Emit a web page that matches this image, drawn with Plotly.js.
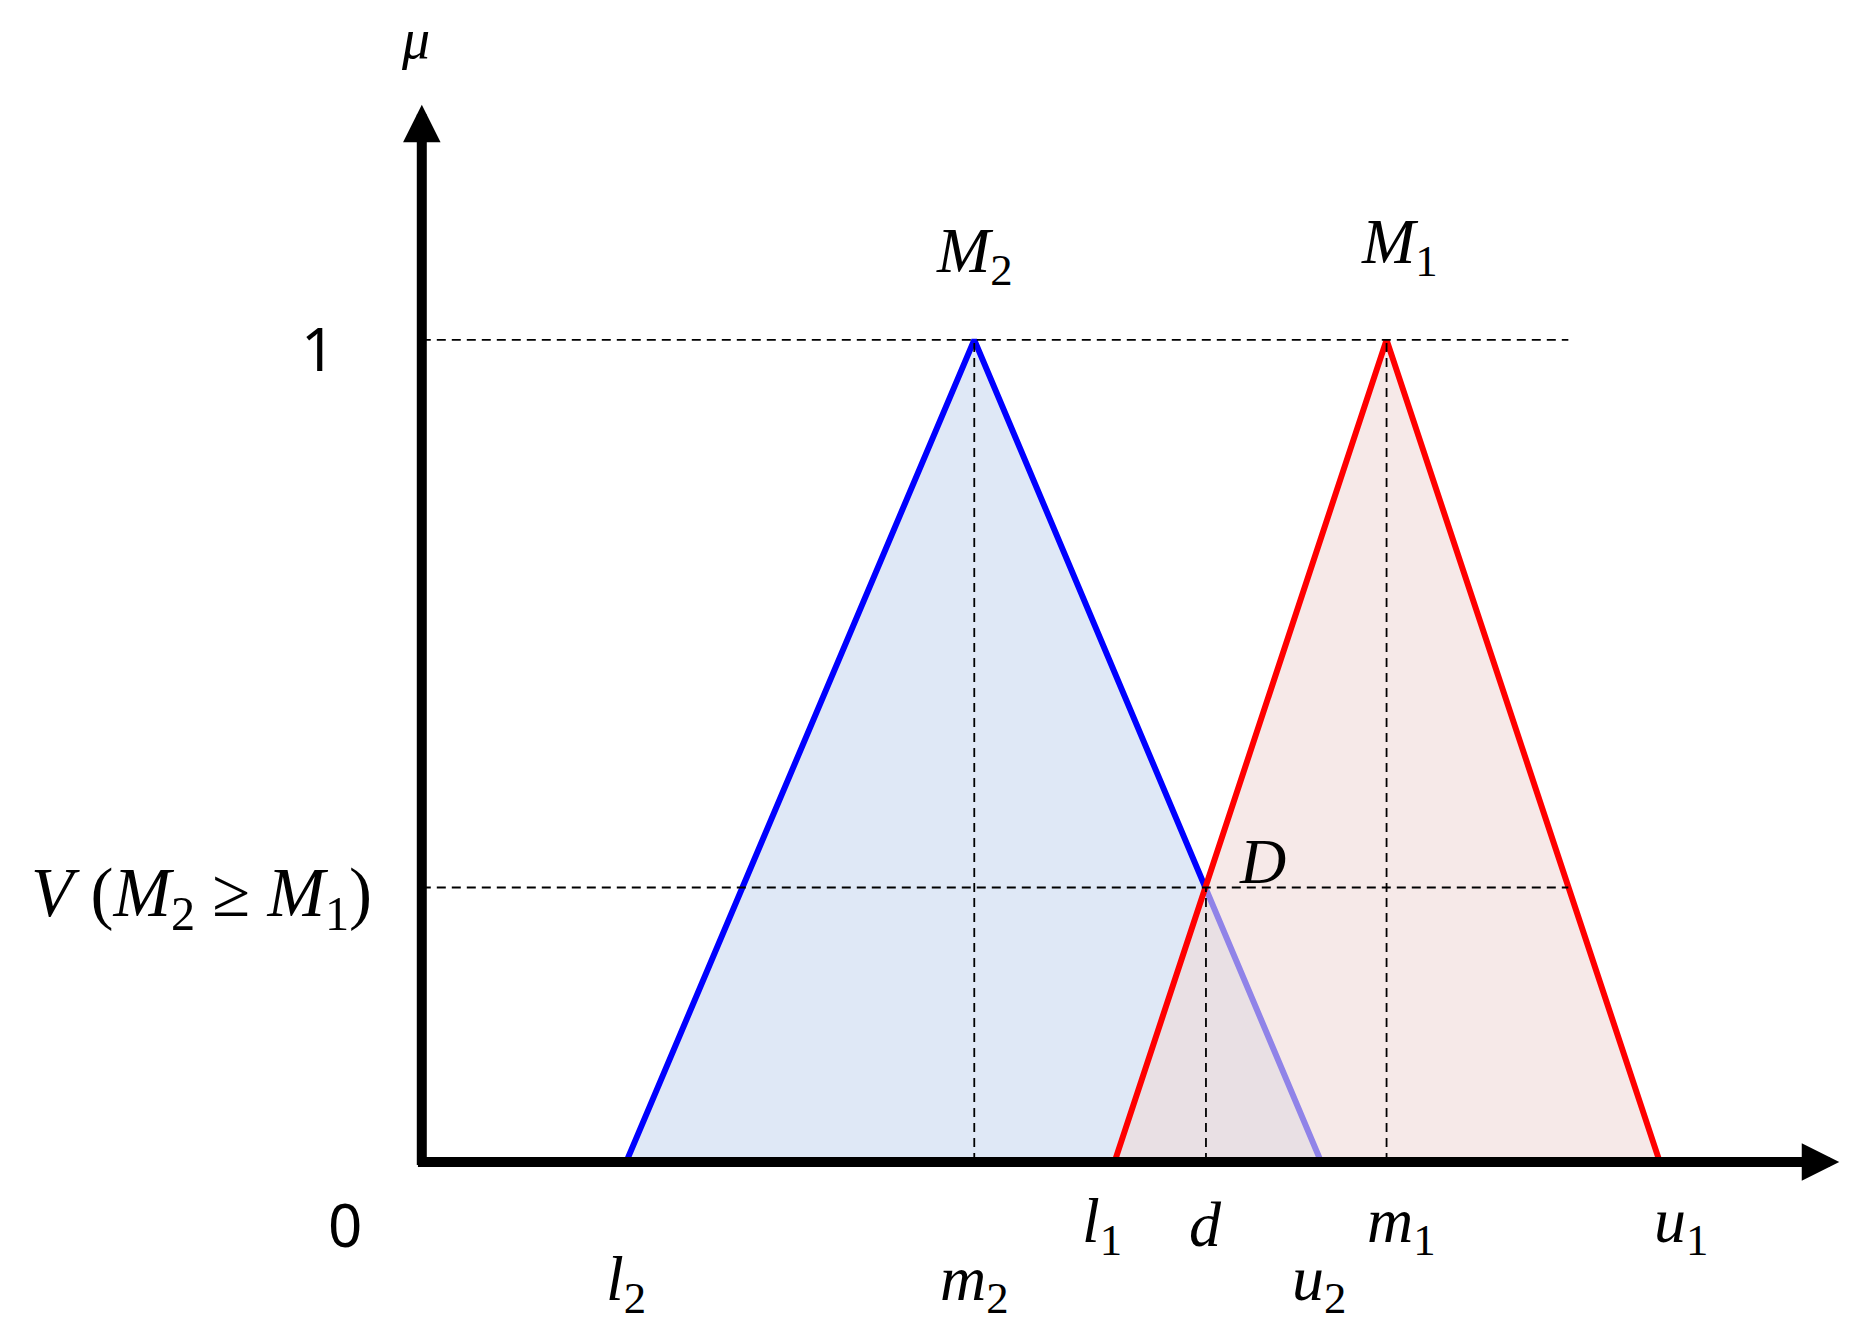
<!DOCTYPE html>
<html>
<head>
<meta charset="utf-8">
<script src="https://cdn.plot.ly/plotly-3.0.1.min.js"></script>
<style>html,body{margin:0;padding:0;background:#fff;}#chart{width:1863px;height:1332px;}</style>
</head>
<body>
<div id="chart"></div>
<script>
// Fuzzy numbers (triangular): [l, m, u]
const M2 = [1.72, 4.65, 7.57];
const M1 = [5.83, 8.12, 10.42];
const triY = [0, 1, 0];
// Intersection point D
const dVal = 6.60;
const vVal = 0.334;
// extents of the reference lines and axes
const dashEnd = 9.65;
const xAxisEnd = 11.93;
const yAxisEnd = 1.286;

// labels
const xTickNames = ['l<sub>2</sub>', 'm<sub>2</sub>', 'l<sub>1</sub>', 'd', 'u<sub>2</sub>', 'm<sub>1</sub>', 'u<sub>1</sub>'];
const xTickVals = [M2[0], M2[1], M1[0], dVal, M2[2], M1[1], M1[2]];
const xTickRow = [1, 1, 0, 0, 1, 0, 0];
const xTickShift = [0, 0, -12, 0, -2, 15, 21];

const mathFont = 'Liberation Serif, DejaVu Serif, serif';
const sansFont = 'Noto Sans, Open Sans, sans-serif';

const traces = [
  {x: [M2[0], M2[1], M2[2]], y: triY, mode: 'lines', fill: 'toself',
   fillcolor: 'rgb(223,232,246)', line: {color: '#0000ff', width: 6}},
  {x: [M1[0], M1[1], M1[2]], y: triY, mode: 'lines', fill: 'toself',
   fillcolor: 'rgba(240,218,217,0.6)', line: {color: '#ff0000', width: 6}},
  {x: [0, dashEnd], y: [1, 1], mode: 'lines', line: {color: '#000', width: 1.8, dash: '9px,6px'}},
  {x: [0, dashEnd], y: [vVal, vVal], mode: 'lines', line: {color: '#000', width: 1.8, dash: '9px,6px'}},
  {x: [M2[1], M2[1]], y: [0, 1], mode: 'lines', line: {color: '#000', width: 1.8, dash: '9px,6px'}},
  {x: [M1[1], M1[1]], y: [0, 1], mode: 'lines', line: {color: '#000', width: 1.8, dash: '9px,6px'}},
  {x: [dVal, dVal], y: [0, vVal], mode: 'lines', line: {color: '#000', width: 1.8, dash: '9px,6px'}}
];

const ann = [];
// axes with arrows
ann.push({x: xAxisEnd, y: 0, ax: -0.045, ay: 0, xref: 'x', yref: 'y', axref: 'x', ayref: 'y',
  showarrow: true, arrowhead: 2, arrowwidth: 10, arrowsize: 0.75, arrowcolor: '#000', text: ' ', font: {size: 1}});
ann.push({x: 0, y: yAxisEnd, ax: 0, ay: -0.006, xref: 'x', yref: 'y', axref: 'x', ayref: 'y',
  showarrow: true, arrowhead: 2, arrowwidth: 10, arrowsize: 0.75, arrowcolor: '#000', text: ' ', font: {size: 1}});

function mathLabel(txt, x, y, xshift, size) {
  return {x: x, y: y, xref: 'x', yref: 'y', text: txt, showarrow: false, xanchor: 'center', yanchor: 'middle',
    xshift: xshift || 0, font: {family: mathFont, size: size || 64, color: '#000'}};
}
xTickNames.forEach(function (t, i) {
  const parts = t.split('<sub>');
  const txt = '<i>' + parts[0] + '</i>' + (parts[1] ? '<sub>' + parts[1] : '');
  ann.push(mathLabel(txt, xTickVals[i], xTickRow[i] ? -0.147 : -0.076, xTickShift[i]));
});
ann.push(mathLabel('<i>M</i><sub>2</sub>', M2[1], 1.103, 0));
ann.push(mathLabel('<i>M</i><sub>1</sub>', M1[1], 1.114, 13));
ann.push(mathLabel('<i>D</i>', dVal, 0.366, 57));
ann.push(mathLabel('<i>μ</i>', 0, 1.366, -6, 56));
ann.push(mathLabel('<i>V</i> (<i>M</i><sub>2</sub> ≥ <i>M</i><sub>1</sub>)', -1.85, 0.322, 0, 69));
ann.push({x: -0.87, y: 0.99, xref: 'x', yref: 'y', text: '1', showarrow: false, font: {family: sansFont, size: 60, color: '#000'}});
ann.push({x: -0.65, y: -0.075, xref: 'x', yref: 'y', text: '0', showarrow: false, font: {family: sansFont, size: 60, color: '#000'}});

const layout = {
  width: 1863, height: 1332,
  margin: {l: 0, r: 0, t: 0, b: 0},
  paper_bgcolor: '#fff', plot_bgcolor: '#fff',
  showlegend: false,
  xaxis: {range: [-3.55, 12.13], visible: false, fixedrange: true},
  yaxis: {range: [-0.2066, 1.4133], visible: false, fixedrange: true},
  annotations: ann
};
Plotly.newPlot('chart', traces, layout, {staticPlot: true, displayModeBar: false});
</script>
</body>
</html>
